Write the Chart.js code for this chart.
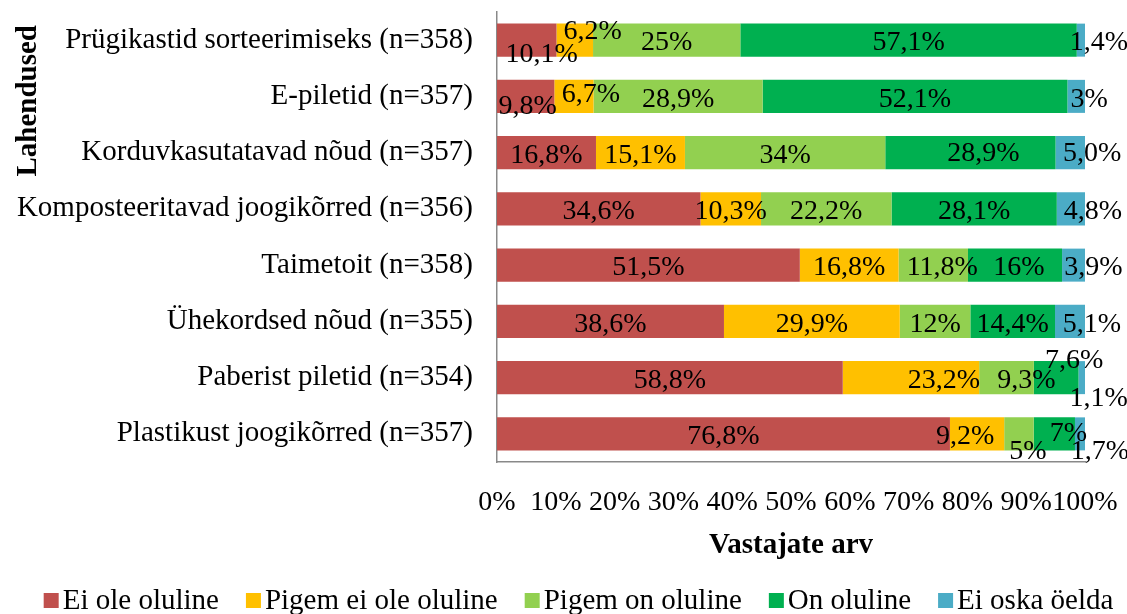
<!DOCTYPE html>
<html>
<head>
<meta charset="utf-8">
<script src="https://cdn.jsdelivr.net/npm/chart.js@4.4.0/dist/chart.umd.min.js"></script>
<style>
  html, body { margin: 0; padding: 0; background: #fff; }
</style>
</head>
<body>
<canvas id="chart" width="1127" height="614"></canvas>
<script>
const categories = [
    "Prügikastid sorteerimiseks (n=358)",
    "E-piletid (n=357)",
    "Korduvkasutatavad nõud (n=357)",
    "Komposteeritavad joogikõrred (n=356)",
    "Taimetoit (n=358)",
    "Ühekordsed nõud (n=355)",
    "Paberist piletid (n=354)",
    "Plastikust joogikõrred (n=357)"
];

const seriesNames = ["Ei ole oluline", "Pigem ei ole oluline", "Pigem on oluline", "On oluline", "Ei oska öelda"];

const eiOle = [10.1, 9.8, 16.8, 34.6, 51.5, 38.6, 58.8, 76.8];
const pigemEiOle = [6.2, 6.7, 15.1, 10.3, 16.8, 29.9, 23.2, 9.2];
const pigemOn = [25, 28.9, 34, 22.2, 11.8, 12, 9.3, 5];
const onOluline = [57.1, 52.1, 28.9, 28.1, 16, 14.4, 7.6, 7];
const eiOska = [1.4, 3, 5.0, 4.8, 3.9, 5.1, 1.1, 1.7];

const xTicks = [0, 10, 20, 30, 40, 50, 60, 70, 80, 90, 100];

const colors = ["#C0504D", "#FFC000", "#92D050", "#00B050", "#4BACC6"];
const FONT = "'Liberation Serif', 'Times New Roman', serif";

// labels that Excel printed with a trailing zero
const labelOverride = { "4,2": "5,0%" };

// small shifts for labels of narrow segments  [dx, dy]  key = series,row
const labelNudge = {
    "0,0": [15, 12], "1,0": [18, -11], "4,0": [18, 0],
    "0,1": [2, 7], "1,1": [17, -5], "4,1": [13, 0],
    "3,2": [13, -2], "4,2": [22, -2],
    "4,3": [22, 0],
    "2,4": [9, 0], "3,4": [4, 0], "4,4": [20, 0],
    "4,5": [22, 0],
    "1,6": [33, 0], "2,6": [20, 0], "3,6": [18, -20], "4,6": [17, 18],
    "1,7": [-12, 0], "2,7": [9, 15], "3,7": [14, -3], "4,7": [20, 15]
};

const allSeries = [eiOle, pigemEiOle, pigemOn, onOluline, eiOska];
const rowSums = categories.map((c, j) => allSeries.reduce((s, arr) => s + arr[j], 0));

function fmt(v) {
    return String(v).replace(".", ",") + "%";
}

const datasets = allSeries.map((arr, i) => ({
    label: seriesNames[i],
    data: arr.map((v, j) => v / rowSums[j] * 100),
    labelText: arr.map((v, j) => labelOverride[i + "," + j] || fmt(v)),
    backgroundColor: colors[i],
    borderWidth: 0,
    barPercentage: 0.587,
    categoryPercentage: 1
}));

const segmentLabels = {
    id: "segmentLabels",
    afterDatasetsDraw(chart) {
        const ctx = chart.ctx;
        ctx.save();
        ctx.font = "28px " + FONT;
        ctx.fillStyle = "#000";
        ctx.textAlign = "center";
        ctx.textBaseline = "middle";
        chart.data.datasets.forEach((ds, i) => {
            chart.getDatasetMeta(i).data.forEach((bar, j) => {
                const n = labelNudge[i + "," + j] || [0, 0];
                const cx = (bar.x + bar.base) / 2 + n[0];
                const cy = bar.y + 3 + n[1];
                ctx.fillText(ds.labelText[j], cx, cy);
            });
        });
        ctx.restore();
    }
};

const bottomLegend = {
    id: "bottomLegend",
    afterDraw(chart) {
        const ctx = chart.ctx;
        ctx.save();
        ctx.font = "29px " + FONT;
        ctx.textBaseline = "middle";
        const box = 15, gap = 4, spacing = 27;
        const items = chart.data.datasets.map(ds => ({
            text: ds.label,
            color: ds.backgroundColor,
            w: box + gap + ctx.measureText(ds.label).width
        }));
        const total = items.reduce((s, it) => s + it.w, 0) + spacing * (items.length - 1);
        let x = (chart.width + 30) / 2 - total / 2;
        const y = 600;
        items.forEach(it => {
            ctx.fillStyle = it.color;
            ctx.fillRect(x, y - 7, box, 15);
            ctx.fillStyle = "#000";
            ctx.fillText(it.text, x + box + gap, y + 1);
            x += it.w + spacing;
        });
        ctx.restore();
    }
};

new Chart(document.getElementById("chart"), {
    type: "bar",
    data: { labels: categories, datasets: datasets },
    plugins: [segmentLabels, bottomLegend],
    options: {
        indexAxis: "y",
        responsive: false,
        animation: false,
        layout: { padding: { top: 12, right: 42, bottom: 42, left: 0 } },
        plugins: {
            legend: { display: false },
            tooltip: { enabled: false }
        },
        scales: {
            x: {
                stacked: true,
                min: 0,
                max: 100,
                afterBuildTicks: axis => { axis.ticks = xTicks.map(v => ({ value: v })); },
                afterFit: axis => {
                    axis.height = 110;
                    axis.paddingLeft = 0;
                    axis.paddingRight = 0;
                },
                grid: { display: false, drawTicks: false },
                border: { display: true, color: "#898989", width: 1.5 },
                ticks: {
                    autoSkip: false,
                    maxRotation: 0,
                    padding: 24,
                    color: "#000",
                    font: { family: FONT, size: 28 },
                    callback: v => v + "%"
                },
                title: {
                    display: true,
                    text: "Vastajate arv",
                    color: "#000",
                    font: { family: FONT, size: 29, weight: "bold" },
                    padding: { top: 0, bottom: 9 }
                }
            },
            y: {
                stacked: true,
                afterFit: axis => {
                    axis.width = 497;
                    axis.paddingTop = 0;
                    axis.paddingBottom = 0;
                },
                grid: { display: false, drawTicks: false },
                border: { display: true, color: "#898989", width: 1.5 },
                ticks: {
                    padding: 24,
                    color: "#000",
                    font: { family: FONT, size: 29 }
                },
                title: {
                    display: true,
                    // trailing spaces push the top-aligned title down a little
                    text: "Lahendused \u2009",
                    align: "end",
                    color: "#000",
                    font: { family: FONT, size: 29, weight: "bold" },
                    padding: { top: 11, bottom: 0 }
                }
            }
        }
    }
});
</script>
</body>
</html>
